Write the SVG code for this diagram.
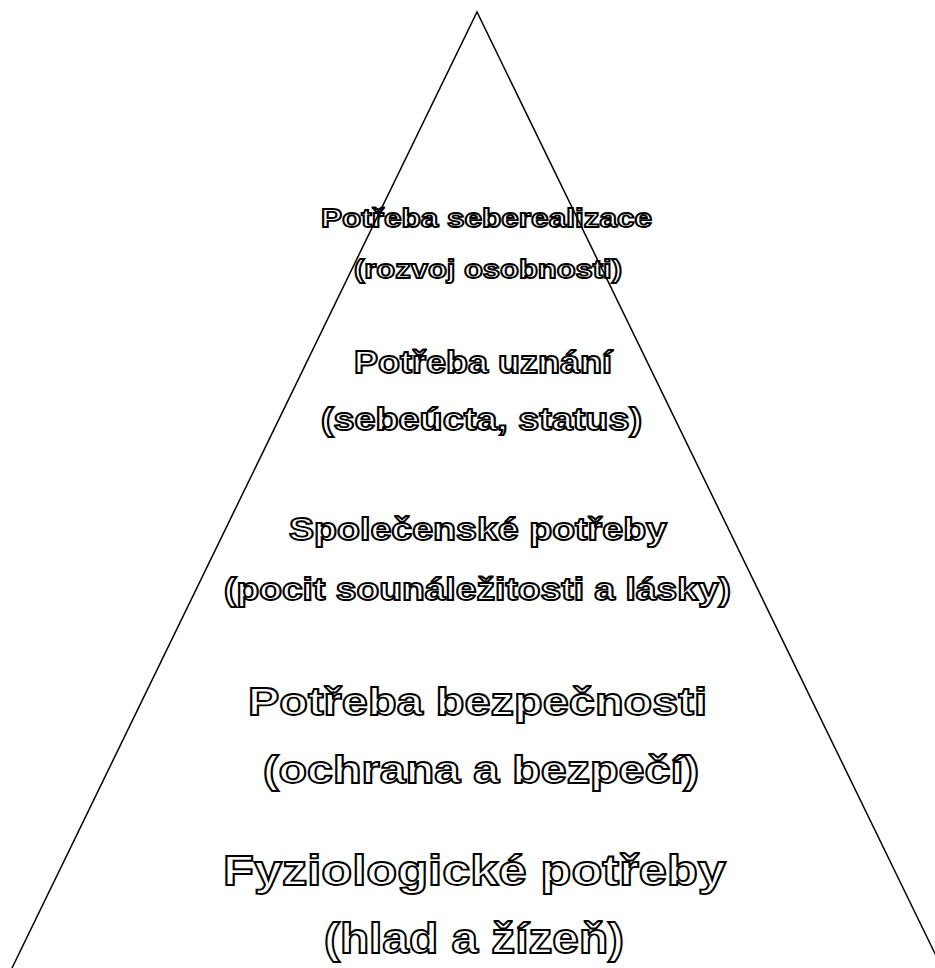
<svg xmlns="http://www.w3.org/2000/svg" width="935" height="968" viewBox="0 0 935 968">
<style>
.t{font-family:"Liberation Sans",Arial,sans-serif;font-weight:bold;fill:#fff;stroke:#000;stroke-width:1.8;text-anchor:middle}
.edge{fill:none;stroke:#000;stroke-width:1.5}
</style>
<rect width="935" height="968" fill="#fff"/>
<g id="level5">
<text class="t" x="486.5" y="226.5" font-size="26.7" textLength="331" lengthAdjust="spacingAndGlyphs">Potřeba seberealizace</text>
<text class="t" x="488" y="278" font-size="26.7" textLength="268" lengthAdjust="spacingAndGlyphs">(rozvoj osobnosti)</text>
</g>
<g id="level4">
<text class="t" x="483" y="373" font-size="30.8" textLength="258" lengthAdjust="spacingAndGlyphs">Potřeba uznání</text>
<text class="t" x="481.5" y="430" font-size="30.8" textLength="321" lengthAdjust="spacingAndGlyphs">(sebeúcta, status)</text>
</g>
<g id="level3">
<text class="t" x="478" y="540" font-size="31.3" textLength="378" lengthAdjust="spacingAndGlyphs">Společenské potřeby</text>
<text class="t" x="477.5" y="600" font-size="31.3" textLength="507" lengthAdjust="spacingAndGlyphs">(pocit sounáležitosti a lásky)</text>
</g>
<g id="level2">
<text class="t" x="477.5" y="715" font-size="39.2" textLength="459" lengthAdjust="spacingAndGlyphs">Potřeba bezpečnosti</text>
<text class="t" x="481" y="783" font-size="39.2" textLength="436" lengthAdjust="spacingAndGlyphs">(ochrana a bezpečí)</text>
</g>
<g id="level1">
<text class="t" x="474.5" y="885" font-size="42.5" textLength="503" lengthAdjust="spacingAndGlyphs">Fyziologické potřeby</text>
<text class="t" x="474" y="953" font-size="42.5" textLength="300" lengthAdjust="spacingAndGlyphs">(hlad a žízeň)</text>
</g>
<g id="connectors"><polyline class="edge" points="12,968 477,12 942,968"/></g>
</svg>
